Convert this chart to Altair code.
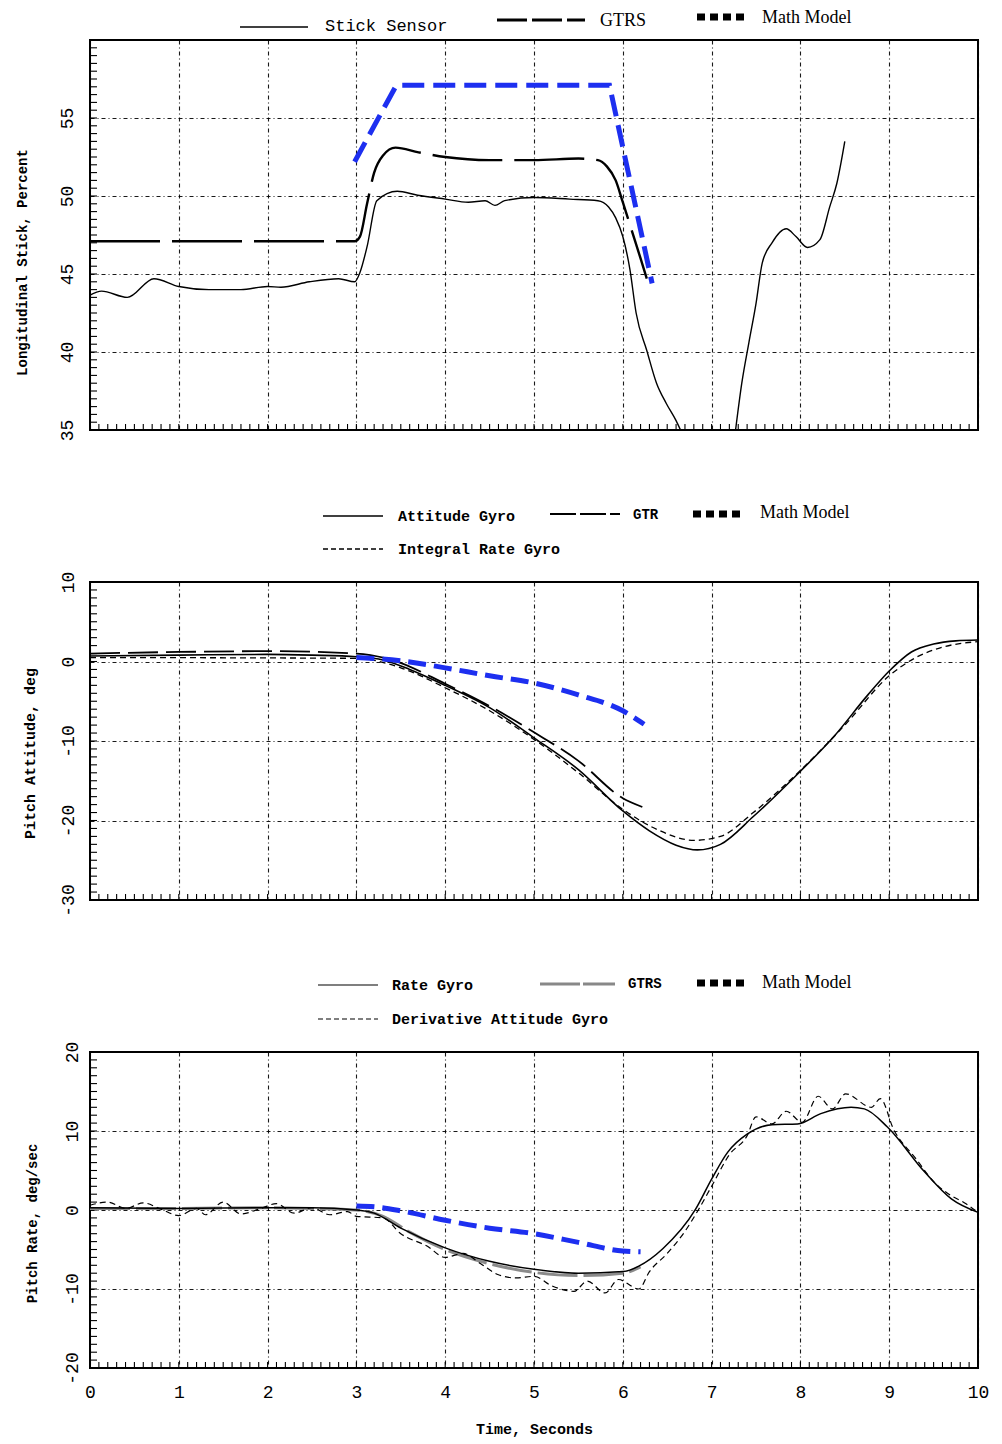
import altair as alt
import pandas as pd

# ---------------- Panel 1: Longitudinal stick (percent) ----------------
stick_a_t = [0.0, 0.13, 0.42, 0.72, 1.0, 1.34, 1.7, 2.0, 2.15, 2.47, 2.8, 2.98, 3.04, 3.12, 3.23,
             3.46, 3.69, 4.0, 4.26, 4.45, 4.56, 4.67, 5.0, 5.4, 5.72, 5.84, 5.92, 6.0, 6.08, 6.15,
             6.27, 6.38, 6.49, 6.6, 6.65]
stick_a_v = [43.65, 43.9, 43.5, 44.7, 44.2, 44.0, 44.0, 44.2, 44.15, 44.5, 44.7, 44.5, 45.1, 46.75, 49.7,
             50.3, 50.05, 49.8, 49.6, 49.7, 49.4, 49.7, 49.9, 49.8, 49.7, 49.3, 48.6, 47.4, 45.3, 42.5,
             40.1, 38.0, 36.7, 35.6, 35.0]
stick_b_t = [7.27, 7.34, 7.42, 7.5, 7.57, 7.68, 7.84, 7.95, 8.08, 8.22, 8.33, 8.41, 8.5]
stick_b_v = [35.0, 38.0, 40.6, 43.1, 45.7, 47.0, 47.9, 47.4, 46.7, 47.2, 49.3, 50.8, 53.5]
gtrs1_t = [0.0, 2.98, 3.04, 3.12, 3.2, 3.3, 3.44, 3.7, 4.0, 4.5, 5.0, 5.5, 5.72, 5.82, 5.92, 6.0, 6.1, 6.2, 6.27]
gtrs1_v = [47.1, 47.1, 47.4, 49.5, 51.5, 52.6, 53.1, 52.8, 52.5, 52.3, 52.3, 52.4, 52.3, 51.9, 51.0, 49.6, 47.8, 46.0, 44.7]
math1_t = [2.98, 3.45, 5.85, 6.33]
math1_v = [52.2, 57.1, 57.1, 44.4]

# ---------------- Panel 2: Pitch attitude (deg) ----------------
att_t = [0.0, 1.0, 2.0, 2.5, 3.0, 3.3, 3.6, 4.0, 4.5, 5.0, 5.5, 6.0, 6.3, 6.6, 6.84, 7.1, 7.47, 8.0,
         8.38, 8.76, 9.0, 9.25, 9.5, 9.75, 10.0]
att_v = [0.7, 0.8, 0.9, 0.8, 0.6, 0.2, -1.0, -3.0, -5.8, -9.6, -13.6, -18.8, -21.3, -23.1, -23.7, -23.0,
         -19.5, -13.8, -9.4, -4.2, -1.2, 1.2, 2.2, 2.6, 2.7]
irg_t = [0.0, 3.0, 3.5, 4.0, 4.5, 5.0, 5.5, 6.0, 6.4, 6.8, 7.1, 7.47, 8.0, 8.5, 9.0, 9.3, 9.6, 10.0]
irg_v = [0.5, 0.4, -0.8, -3.3, -6.2, -9.8, -14.0, -18.6, -21.2, -22.5, -22.0, -19.0, -13.7, -8.0,
         -1.8, 0.5, 1.8, 2.5]
gtr2_t = [0.0, 1.0, 2.0, 3.0, 3.4, 4.0, 4.5, 5.0, 5.5, 6.0, 6.22]
gtr2_v = [1.0, 1.2, 1.3, 1.0, 0.2, -2.8, -5.6, -8.9, -12.5, -17.2, -18.3]
math2_t = [3.0, 3.5, 4.0, 4.5, 5.0, 5.5, 6.0, 6.24]
math2_v = [0.5, 0.1, -0.8, -1.8, -2.7, -4.2, -6.2, -7.9]

# ---------------- Panel 3: Pitch rate (deg/sec) ----------------
rate_t = [0.0, 1.0, 2.0, 2.5, 3.0, 3.2, 3.5, 4.0, 4.5, 5.0, 5.5, 6.0, 6.18, 6.45, 6.82, 7.0, 7.18,
          7.4, 7.68, 7.97, 8.23, 8.57, 8.72, 8.98, 9.4, 9.7, 10.0]
rate_v = [0.3, 0.2, 0.3, 0.3, 0.0, -0.4, -2.3, -4.8, -6.5, -7.5, -8.0, -7.8, -7.1, -4.9, 0.1, 3.9, 7.3,
          9.6, 10.8, 10.9, 12.2, 13.0, 12.8, 10.5, 4.8, 1.4, -0.3]
dag_t = [0.0, 0.2, 0.4, 0.6, 0.8, 1.0, 1.2, 1.3, 1.5, 1.7, 1.9, 2.1, 2.3, 2.5, 2.7, 2.9, 3.0, 3.3, 3.5,
         3.8, 4.0, 4.2, 4.4, 4.6, 4.8, 5.0, 5.2, 5.45, 5.6, 5.8, 5.95, 6.18, 6.3, 6.5, 6.7, 6.85, 7.0,
         7.2, 7.4, 7.5, 7.68, 7.84, 8.02, 8.2, 8.36, 8.51, 8.8, 8.9, 9.05, 9.3, 9.5, 9.7, 9.85, 10.0]
dag_v = [0.6, 1.0, 0.2, 0.9, 0.1, -0.7, 0.2, -0.6, 1.0, -0.5, 0.1, 0.8, -0.4, 0.3, -0.6, -0.2, -0.8,
         -1.0, -3.0, -4.6, -6.0, -5.5, -6.8, -8.2, -8.6, -8.4, -9.6, -10.3, -9.0, -10.5, -8.8, -10.0,
         -7.8, -5.5, -2.7, 0.0, 3.0, 7.0, 9.4, 11.8, 10.9, 12.5, 11.1, 14.4, 12.8, 14.7, 13.0, 14.1,
         10.2, 6.5, 3.6, 1.8, 0.9, -0.3]
gtrs3_t = [0.0, 1.0, 2.0, 2.5, 3.0, 3.3, 3.6, 4.0, 4.5, 5.0, 5.5, 6.0, 6.2]
gtrs3_v = [0.2, 0.2, 0.3, 0.2, 0.0, -0.8, -2.8, -5.0, -6.8, -7.9, -8.3, -8.0, -7.2]
math3_t = [3.0, 3.2, 3.5, 4.0, 4.5, 5.0, 5.5, 6.0, 6.2]
math3_v = [0.5, 0.4, -0.1, -1.3, -2.3, -3.0, -4.1, -5.2, -5.3]

# axis ticks
x_major = list(range(11))
x_minor = [i / 10 for i in range(101)]
y1_major = [35, 40, 45, 50, 55]
y1_minor = [35 + i * 0.5 for i in range(51)]
y2_major = [-30, -20, -10, 0, 10]
y2_minor = [-30 + i for i in range(41)]
y3_major = [-20, -10, 0, 10, 20]
y3_minor = [-20 + i for i in range(41)]

W = 888
H1, H2, H3 = 390, 318, 316
MONO = "Liberation Mono"
SERIF = "Liberation Serif"
BLUE = "#1d2ff0"
GRID_DASH = [4, 3, 1, 3]
one = pd.DataFrame({"k": [0]})


def frame(t, v, seg=0):
    return pd.DataFrame({"t": t, "v": v, "seg": [seg] * len(t)})


xs = alt.Scale(domain=[0, 10], nice=False, zero=False)


def x_axis(show):
    common = dict(values=x_major, grid=True, gridDash=GRID_DASH, gridColor="black", gridWidth=1.1,
                  gridOpacity=0.9, ticks=False, domain=False)
    if show:
        return alt.Axis(labels=True, labelFont=MONO, labelFontSize=18, labelColor="black",
                        labelPadding=15, labelFlush=False, labelOverlap=False,
                        title="Time, Seconds", titleFont=MONO, titleFontSize=15,
                        titleFontWeight="bold", titleColor="black", titlePadding=20, **common)
    return alt.Axis(labels=False, title=None, **common)


def y_axis(vals, title, pad, tx, ty, tsize):
    return alt.Axis(values=vals, grid=True, gridDash=GRID_DASH, gridColor="black", gridWidth=1.1,
                    gridOpacity=0.9, ticks=False, domain=False,
                    labelAngle=270, labelAlign="center", labelBaseline="bottom",
                    labelPadding=pad, labelFont=MONO, labelFontSize=18, labelColor="black",
                    labelOverlap=False, labelFlush=False, labelExpr="'' + datum.value",
                    title=title, titleAngle=270, titleX=tx, titleY=ty, titleAlign="center",
                    titleBaseline="middle", titleFont=MONO, titleFontSize=tsize,
                    titleFontWeight="bold", titleColor="black")


def line(df, xenc, yenc, color, width, dash=None, interp="monotone"):
    kw = dict(color=color, strokeWidth=width, interpolate=interp, strokeCap="butt")
    if dash:
        kw["strokeDash"] = dash
    return alt.Chart(df).mark_line(**kw).encode(x=xenc, y=yenc, detail="seg:N")


def minor_ticks(xenc, yenc_field, H):
    xt = alt.Chart(pd.DataFrame({"t": x_minor})).mark_rule(color="black", strokeWidth=1.1).encode(
        x=xenc, y=alt.value(H), y2=alt.value(H - 6))
    yt = alt.Chart(pd.DataFrame({"v": yenc_field[1]})).mark_rule(color="black", strokeWidth=1.1).encode(
        y=yenc_field[0], x=alt.value(0), x2=alt.value(7))
    return [xt, yt]


def txt(s, x, y, font=MONO, size=15, weight="normal", color="black"):
    return alt.Chart(one).mark_text(text=s, font=font, fontSize=size, fontWeight=weight, color=color,
                                    align="left", baseline="middle").encode(
        x=alt.value(x), y=alt.value(y))


def sample(x1, x2, y, color="black", width=1.5, dash=None):
    kw = dict(color=color, strokeWidth=width, strokeCap="butt")
    if dash:
        kw["strokeDash"] = dash
    return alt.Chart(one).mark_rule(**kw).encode(x=alt.value(x1), x2=alt.value(x2), y=alt.value(y))


# ---------------- Panel 1 ----------------
x1 = alt.X("t:Q", scale=xs, axis=x_axis(False), title=None)
ys1 = alt.Scale(domain=[35, 60], nice=False, zero=False)
y1 = alt.Y("v:Q", scale=ys1,
           axis=y_axis(y1_major, "Longitudinal Stick, Percent", 14, -68, 222, 14))
stick_df = pd.concat([frame(stick_a_t, stick_a_v, 0), frame(stick_b_t, stick_b_v, 1)])
p1 = alt.layer(
    *minor_ticks(x1, (y1, y1_minor), H1),
    line(stick_df, x1, y1, "black", 1.4),
    line(frame(gtrs1_t, gtrs1_v), x1, y1, "black", 2.4, dash=[70, 12]),
    line(frame(math1_t, math1_v), x1, y1, BLUE, 5, dash=[22, 9], interp="linear"),
    alt.Chart(one).mark_rule(color="white", strokeWidth=1).encode(
        x=alt.value(-80), x2=alt.value(-79), y=alt.value(-30), y2=alt.value(-30)),
    sample(150, 218, -13, width=1.5),
    txt("Stick Sensor", 235, -14, size=17),
    sample(407, 495, -20, width=3, dash=[30, 5]),
    txt("GTRS", 510, -19, font=SERIF, size=18),
    sample(607, 655, -23, width=7, dash=[8, 5]),
    txt("Math Model", 672, -22, font=SERIF, size=18),
).properties(width=W, height=H1)

# ---------------- Panel 2 ----------------
x2 = alt.X("t:Q", scale=xs, axis=x_axis(False), title=None)
ys2 = alt.Scale(domain=[-30, 10], nice=False, zero=False)
y2 = alt.Y("v:Q", scale=ys2, axis=y_axis(y2_major, "Pitch Attitude, deg", 13, -61, 171, 15))
p2 = alt.layer(
    *minor_ticks(x2, (y2, y2_minor), H2),
    line(frame(irg_t, irg_v), x2, y2, "black", 1.3, dash=[6, 4]),
    line(frame(att_t, att_v), x2, y2, "black", 1.6),
    line(frame(gtr2_t, gtr2_v), x2, y2, "black", 1.8, dash=[30, 8]),
    line(frame(math2_t, math2_v), x2, y2, BLUE, 5, dash=[18, 8]),
    sample(233, 293, -66, width=1.5),
    txt("Attitude Gyro", 308, -66, size=15, weight="bold"),
    sample(460, 530, -68, width=2, dash=[26, 4]),
    txt("GTR", 543, -67, size=14, weight="bold"),
    sample(603, 652, -68, width=7, dash=[8, 5]),
    txt("Math Model", 670, -69, font=SERIF, size=18),
    sample(233, 293, -33, width=1.3, dash=[5, 3]),
    txt("Integral Rate Gyro", 308, -33, size=15, weight="bold"),
).properties(width=W, height=H2)

# ---------------- Panel 3 ----------------
x3 = alt.X("t:Q", scale=xs, axis=x_axis(True))
ys3 = alt.Scale(domain=[-20, 20], nice=False, zero=False)
y3 = alt.Y("v:Q", scale=ys3, axis=y_axis(y3_major, "Pitch Rate, deg/sec", 9, -58, 171, 14))
p3 = alt.layer(
    *minor_ticks(x3, (y3, y3_minor), H3),
    line(frame(gtrs3_t, gtrs3_v), x3, y3, "#8a8a8a", 3, dash=[40, 6]),
    line(frame(dag_t, dag_v), x3, y3, "black", 1.2, dash=[6, 4]),
    line(frame(rate_t, rate_v), x3, y3, "black", 1.5),
    line(frame(math3_t, math3_v), x3, y3, BLUE, 5, dash=[18, 8]),
    sample(228, 288, -67, color="#555555", width=1.3),
    txt("Rate Gyro", 302, -67, size=15, weight="bold"),
    sample(450, 525, -68, color="#888888", width=3, dash=[40, 3]),
    txt("GTRS", 538, -68, size=14, weight="bold"),
    sample(607, 655, -69, width=7, dash=[8, 5]),
    txt("Math Model", 672, -69, font=SERIF, size=18),
    sample(228, 288, -33, width=1.2, dash=[5, 3]),
    txt("Derivative Attitude Gyro", 302, -33, size=15, weight="bold"),
).properties(width=W, height=H3)

chart = alt.vconcat(p1, p2, p3, spacing=152, bounds="flush").properties(
    padding=0, background="white"
).configure_view(stroke="black", strokeWidth=2)

chart.save("out.html", embed_options={"renderer": "svg", "actions": False})
